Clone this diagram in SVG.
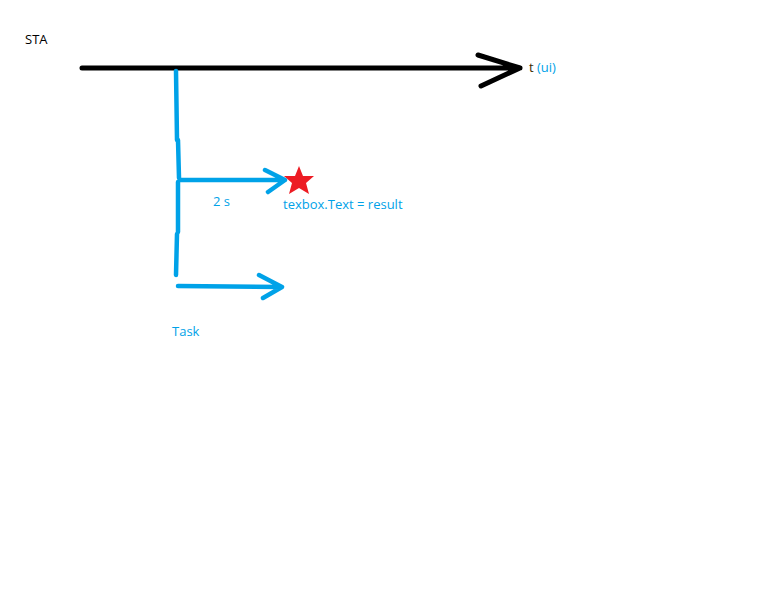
<svg xmlns="http://www.w3.org/2000/svg" width="768" height="614" viewBox="0 0 768 614">
<style>
.t{font-family:"Open Sans","Liberation Sans",sans-serif;font-size:13px}
.b{stroke:#00a2e8;stroke-width:4.5;fill:none;stroke-linecap:round;stroke-linejoin:round}
.k{stroke:#000;stroke-width:5;fill:none;stroke-linecap:round;stroke-linejoin:round}
</style>
<rect width="768" height="614" fill="#fff"/>
<g id="connectors">
<path class="k" d="M82 68 L520 68 M478 55 L520 68 L481 86"/>
<path class="b" d="M176 71 L177 140 M178 140 L179 178 M178 182 L178 232 M177 234 L176 275"/>
<path class="b" d="M180 180 L285 180 M265 170 L285 180 L268 192"/>
<path class="b" d="M178 286 L282 287 M259 275 L282 287 L263 298"/>
</g>
<g id="star"><polygon fill="#ed1c24" points="299,166 303,176 314,176 306,183 309,194 299,188 289,194 292,183 284,176 295,176"/></g>
<g id="sta"><text class="t" x="25" y="44" fill="#000">STA</text></g>
<g id="tui"><text class="t" x="529" y="72" fill="#3a2a00">t <tspan fill="#00a2e8">(ui)</tspan></text></g>
<g id="twos"><text class="t" x="213" y="206" fill="#00a2e8">2 s</text></g>
<g id="result"><text class="t" x="283" y="209" fill="#00a2e8">texbox.Text = result</text></g>
<g id="task"><text class="t" x="172" y="336" fill="#00a2e8">Task</text></g>
</svg>
